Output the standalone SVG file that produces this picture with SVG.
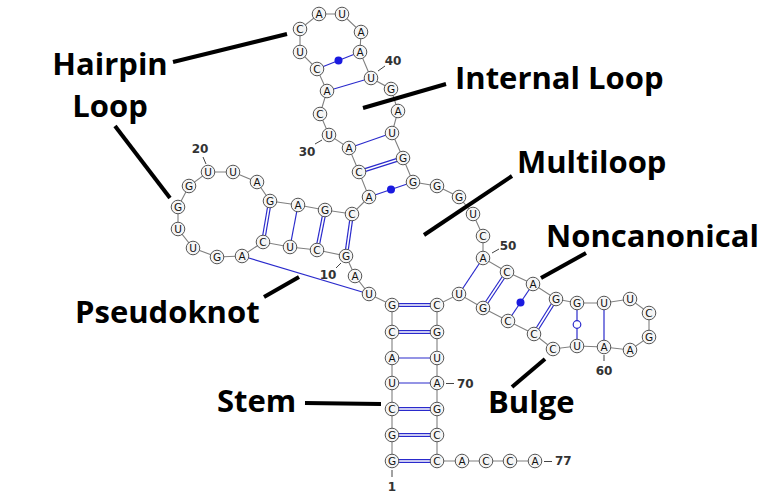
<svg xmlns="http://www.w3.org/2000/svg" width="773" height="500" viewBox="0 0 773 500">
<style>
.bb{fill:none;stroke:#808080;stroke-width:1.1}
.p{stroke:#2a2acc;stroke-width:1.2}
.dbl{stroke:#2a2acc;stroke-width:4}
.dblw{stroke:#fff;stroke-width:1.6}
.ptr{stroke:#000;stroke-width:4;stroke-linecap:butt}
.nd circle{fill:#f5f5f5;stroke:#555;stroke-width:1;r:6.8px}
.nd text{font-family:"DejaVu Sans",sans-serif;font-size:10.5px;text-anchor:middle;dominant-baseline:central;fill:#111}
.num{font-family:"DejaVu Sans",sans-serif;font-size:12px;font-weight:bold;fill:#333}
.tick{stroke:#444;stroke-width:1}
.lbl{font-family:"Open Sans","Noto Sans",sans-serif;font-size:31px;font-weight:bold;fill:#000}
</style>
<g id="connectors">
<polyline class="bb" points="392,461 392,435 392,409 392,383 392,358 392,332 392,305 369,294 355,276 346,256 317,250 290,247 263,242 242,256 217,257 193,248 178,229 178,207 189,186 208,172 233,172 257,182 270,201 298,205 325,210 352,214 369,197 359,172 349,148 329,135 320,114 327,91 317,69 300,52 300,29 319,14 342,14 361,32 360,52 371,78 391,89 398,111 392,133 403,158 413,182 437,186 459,197 473,214 483,236 483,258 507,272 533,284 556,299 577,303 604,303 630,299 649,313 649,337 630,350 604,347 577,346 553,349 534,334 508,321 483,308 459,294 437,305 437,332 437,358 437,383 437,409 437,435 437,461 462,461 486,461 510,461 535,461"/>
<g class="dbl">
<line x1="392" y1="461" x2="437" y2="461"/>
<line x1="392" y1="435" x2="437" y2="435"/>
<line x1="392" y1="409" x2="437" y2="409"/>
<line x1="392" y1="332" x2="437" y2="332"/>
<line x1="392" y1="305" x2="437" y2="305"/>
<line x1="270" y1="201" x2="263" y2="242"/>
<line x1="325" y1="210" x2="317" y2="250"/>
<line x1="352" y1="214" x2="346" y2="256"/>
<line x1="359" y1="172" x2="403" y2="158"/>
<line x1="507" y1="272" x2="483" y2="308"/>
<line x1="556" y1="299" x2="534" y2="334"/>
</g>
<g class="dblw">
<line x1="392" y1="461" x2="437" y2="461"/>
<line x1="392" y1="435" x2="437" y2="435"/>
<line x1="392" y1="409" x2="437" y2="409"/>
<line x1="392" y1="332" x2="437" y2="332"/>
<line x1="392" y1="305" x2="437" y2="305"/>
<line x1="270" y1="201" x2="263" y2="242"/>
<line x1="325" y1="210" x2="317" y2="250"/>
<line x1="352" y1="214" x2="346" y2="256"/>
<line x1="359" y1="172" x2="403" y2="158"/>
<line x1="507" y1="272" x2="483" y2="308"/>
<line x1="556" y1="299" x2="534" y2="334"/>
</g>
<g class="p">
<line x1="392" y1="383" x2="437" y2="383"/>
<line x1="392" y1="358" x2="437" y2="358"/>
<line x1="298" y1="205" x2="290" y2="247"/>
<line x1="242" y1="256" x2="369" y2="294"/>
<line x1="369" y1="197" x2="413" y2="182"/>
<line x1="349" y1="148" x2="392" y2="133"/>
<line x1="327" y1="91" x2="371" y2="78"/>
<line x1="317" y1="69" x2="360" y2="52"/>
<line x1="483" y1="258" x2="459" y2="294"/>
<line x1="533" y1="284" x2="508" y2="321"/>
<line x1="577" y1="303" x2="577" y2="346"/>
<line x1="604" y1="303" x2="604" y2="347"/>
</g>
<circle cx="391" cy="189.5" r="4" fill="#1a1ae0"/>
<circle cx="338.5" cy="60.5" r="4" fill="#1a1ae0"/>
<circle cx="520.5" cy="302.5" r="4" fill="#1a1ae0"/>
<circle cx="577" cy="324.5" r="3.8" fill="#fff" stroke="#2a2acc" stroke-width="1.2"/>
<g class="tick">
<line x1="378" y1="71" x2="385" y2="66"/>
<line x1="322" y1="140" x2="315" y2="144"/>
<line x1="206" y1="164" x2="203" y2="157"/>
<line x1="341" y1="263" x2="336" y2="268"/>
<line x1="492" y1="253" x2="499" y2="249"/>
<line x1="604" y1="355" x2="604" y2="361"/>
<line x1="446" y1="383.5" x2="454" y2="383.5"/>
<line x1="544" y1="461.5" x2="552" y2="461.5"/>
<line x1="392" y1="470" x2="392" y2="477"/>
</g>
<g class="ptr">
<line x1="173" y1="62" x2="287" y2="34"/>
<line x1="115" y1="126" x2="170" y2="198"/>
<line x1="363" y1="108" x2="446" y2="84"/>
<line x1="424" y1="235" x2="512" y2="176"/>
<line x1="541" y1="278" x2="586" y2="253"/>
<line x1="264" y1="297" x2="299" y2="277"/>
<line x1="305" y1="403" x2="381" y2="404"/>
<line x1="512" y1="387" x2="545" y2="359"/>
</g>
</g>
<g id="nodes">
<g id="n1" class="nd"><circle cx="392" cy="461" r="6.8"/><text x="392" y="461">G</text></g>
<g id="n2" class="nd"><circle cx="392" cy="435" r="6.8"/><text x="392" y="435">G</text></g>
<g id="n3" class="nd"><circle cx="392" cy="409" r="6.8"/><text x="392" y="409">C</text></g>
<g id="n4" class="nd"><circle cx="392" cy="383" r="6.8"/><text x="392" y="383">U</text></g>
<g id="n5" class="nd"><circle cx="392" cy="358" r="6.8"/><text x="392" y="358">A</text></g>
<g id="n6" class="nd"><circle cx="392" cy="332" r="6.8"/><text x="392" y="332">C</text></g>
<g id="n7" class="nd"><circle cx="392" cy="305" r="6.8"/><text x="392" y="305">G</text></g>
<g id="n8" class="nd"><circle cx="369" cy="294" r="6.8"/><text x="369" y="294">U</text></g>
<g id="n9" class="nd"><circle cx="355" cy="276" r="6.8"/><text x="355" y="276">A</text></g>
<g id="n10" class="nd"><circle cx="346" cy="256" r="6.8"/><text x="346" y="256">G</text></g>
<g id="n11" class="nd"><circle cx="317" cy="250" r="6.8"/><text x="317" y="250">C</text></g>
<g id="n12" class="nd"><circle cx="290" cy="247" r="6.8"/><text x="290" y="247">U</text></g>
<g id="n13" class="nd"><circle cx="263" cy="242" r="6.8"/><text x="263" y="242">C</text></g>
<g id="n14" class="nd"><circle cx="242" cy="256" r="6.8"/><text x="242" y="256">A</text></g>
<g id="n15" class="nd"><circle cx="217" cy="257" r="6.8"/><text x="217" y="257">G</text></g>
<g id="n16" class="nd"><circle cx="193" cy="248" r="6.8"/><text x="193" y="248">U</text></g>
<g id="n17" class="nd"><circle cx="178" cy="229" r="6.8"/><text x="178" y="229">U</text></g>
<g id="n18" class="nd"><circle cx="178" cy="207" r="6.8"/><text x="178" y="207">G</text></g>
<g id="n19" class="nd"><circle cx="189" cy="186" r="6.8"/><text x="189" y="186">G</text></g>
<g id="n20" class="nd"><circle cx="208" cy="172" r="6.8"/><text x="208" y="172">U</text></g>
<g id="n21" class="nd"><circle cx="233" cy="172" r="6.8"/><text x="233" y="172">U</text></g>
<g id="n22" class="nd"><circle cx="257" cy="182" r="6.8"/><text x="257" y="182">A</text></g>
<g id="n23" class="nd"><circle cx="270" cy="201" r="6.8"/><text x="270" y="201">G</text></g>
<g id="n24" class="nd"><circle cx="298" cy="205" r="6.8"/><text x="298" y="205">A</text></g>
<g id="n25" class="nd"><circle cx="325" cy="210" r="6.8"/><text x="325" y="210">G</text></g>
<g id="n26" class="nd"><circle cx="352" cy="214" r="6.8"/><text x="352" y="214">C</text></g>
<g id="n27" class="nd"><circle cx="369" cy="197" r="6.8"/><text x="369" y="197">A</text></g>
<g id="n28" class="nd"><circle cx="359" cy="172" r="6.8"/><text x="359" y="172">C</text></g>
<g id="n29" class="nd"><circle cx="349" cy="148" r="6.8"/><text x="349" y="148">A</text></g>
<g id="n30" class="nd"><circle cx="329" cy="135" r="6.8"/><text x="329" y="135">U</text></g>
<g id="n31" class="nd"><circle cx="320" cy="114" r="6.8"/><text x="320" y="114">C</text></g>
<g id="n32" class="nd"><circle cx="327" cy="91" r="6.8"/><text x="327" y="91">A</text></g>
<g id="n33" class="nd"><circle cx="317" cy="69" r="6.8"/><text x="317" y="69">C</text></g>
<g id="n34" class="nd"><circle cx="300" cy="52" r="6.8"/><text x="300" y="52">U</text></g>
<g id="n35" class="nd"><circle cx="300" cy="29" r="6.8"/><text x="300" y="29">C</text></g>
<g id="n36" class="nd"><circle cx="319" cy="14" r="6.8"/><text x="319" y="14">A</text></g>
<g id="n37" class="nd"><circle cx="342" cy="14" r="6.8"/><text x="342" y="14">U</text></g>
<g id="n38" class="nd"><circle cx="361" cy="32" r="6.8"/><text x="361" y="32">A</text></g>
<g id="n39" class="nd"><circle cx="360" cy="52" r="6.8"/><text x="360" y="52">A</text></g>
<g id="n40" class="nd"><circle cx="371" cy="78" r="6.8"/><text x="371" y="78">U</text></g>
<g id="n41" class="nd"><circle cx="391" cy="89" r="6.8"/><text x="391" y="89">G</text></g>
<g id="n42" class="nd"><circle cx="398" cy="111" r="6.8"/><text x="398" y="111">A</text></g>
<g id="n43" class="nd"><circle cx="392" cy="133" r="6.8"/><text x="392" y="133">U</text></g>
<g id="n44" class="nd"><circle cx="403" cy="158" r="6.8"/><text x="403" y="158">G</text></g>
<g id="n45" class="nd"><circle cx="413" cy="182" r="6.8"/><text x="413" y="182">G</text></g>
<g id="n46" class="nd"><circle cx="437" cy="186" r="6.8"/><text x="437" y="186">G</text></g>
<g id="n47" class="nd"><circle cx="459" cy="197" r="6.8"/><text x="459" y="197">G</text></g>
<g id="n48" class="nd"><circle cx="473" cy="214" r="6.8"/><text x="473" y="214">U</text></g>
<g id="n49" class="nd"><circle cx="483" cy="236" r="6.8"/><text x="483" y="236">C</text></g>
<g id="n50" class="nd"><circle cx="483" cy="258" r="6.8"/><text x="483" y="258">A</text></g>
<g id="n51" class="nd"><circle cx="507" cy="272" r="6.8"/><text x="507" y="272">C</text></g>
<g id="n52" class="nd"><circle cx="533" cy="284" r="6.8"/><text x="533" y="284">A</text></g>
<g id="n53" class="nd"><circle cx="556" cy="299" r="6.8"/><text x="556" y="299">G</text></g>
<g id="n54" class="nd"><circle cx="577" cy="303" r="6.8"/><text x="577" y="303">G</text></g>
<g id="n55" class="nd"><circle cx="604" cy="303" r="6.8"/><text x="604" y="303">U</text></g>
<g id="n56" class="nd"><circle cx="630" cy="299" r="6.8"/><text x="630" y="299">U</text></g>
<g id="n57" class="nd"><circle cx="649" cy="313" r="6.8"/><text x="649" y="313">C</text></g>
<g id="n58" class="nd"><circle cx="649" cy="337" r="6.8"/><text x="649" y="337">G</text></g>
<g id="n59" class="nd"><circle cx="630" cy="350" r="6.8"/><text x="630" y="350">A</text></g>
<g id="n60" class="nd"><circle cx="604" cy="347" r="6.8"/><text x="604" y="347">A</text></g>
<g id="n61" class="nd"><circle cx="577" cy="346" r="6.8"/><text x="577" y="346">U</text></g>
<g id="n62" class="nd"><circle cx="553" cy="349" r="6.8"/><text x="553" y="349">C</text></g>
<g id="n63" class="nd"><circle cx="534" cy="334" r="6.8"/><text x="534" y="334">C</text></g>
<g id="n64" class="nd"><circle cx="508" cy="321" r="6.8"/><text x="508" y="321">C</text></g>
<g id="n65" class="nd"><circle cx="483" cy="308" r="6.8"/><text x="483" y="308">G</text></g>
<g id="n66" class="nd"><circle cx="459" cy="294" r="6.8"/><text x="459" y="294">U</text></g>
<g id="n67" class="nd"><circle cx="437" cy="305" r="6.8"/><text x="437" y="305">C</text></g>
<g id="n68" class="nd"><circle cx="437" cy="332" r="6.8"/><text x="437" y="332">G</text></g>
<g id="n69" class="nd"><circle cx="437" cy="358" r="6.8"/><text x="437" y="358">U</text></g>
<g id="n70" class="nd"><circle cx="437" cy="383" r="6.8"/><text x="437" y="383">A</text></g>
<g id="n71" class="nd"><circle cx="437" cy="409" r="6.8"/><text x="437" y="409">G</text></g>
<g id="n72" class="nd"><circle cx="437" cy="435" r="6.8"/><text x="437" y="435">C</text></g>
<g id="n73" class="nd"><circle cx="437" cy="461" r="6.8"/><text x="437" y="461">C</text></g>
<g id="n74" class="nd"><circle cx="462" cy="461" r="6.8"/><text x="462" y="461">A</text></g>
<g id="n75" class="nd"><circle cx="486" cy="461" r="6.8"/><text x="486" y="461">C</text></g>
<g id="n76" class="nd"><circle cx="510" cy="461" r="6.8"/><text x="510" y="461">C</text></g>
<g id="n77" class="nd"><circle cx="535" cy="461" r="6.8"/><text x="535" y="461">A</text></g>
</g>
<g id="numbers">
<text class="num" x="393" y="65" text-anchor="middle">40</text>
<text class="num" x="307" y="156" text-anchor="middle">30</text>
<text class="num" x="200" y="153" text-anchor="middle">20</text>
<text class="num" x="328" y="279" text-anchor="middle">10</text>
<text class="num" x="508" y="250" text-anchor="middle">50</text>
<text class="num" x="604" y="375" text-anchor="middle">60</text>
<text class="num" x="457" y="388">70</text>
<text class="num" x="555" y="465">77</text>
<text class="num" x="392" y="491" text-anchor="middle">1</text>
</g>
<g id="labels">
<text class="lbl" x="110" y="75" text-anchor="middle">Hairpin</text>
<text class="lbl" x="110" y="117" text-anchor="middle">Loop</text>
<text class="lbl" x="455" y="89">Internal Loop</text>
<text class="lbl" x="517" y="173">Multiloop</text>
<text class="lbl" x="546" y="247">Noncanonical</text>
<text class="lbl" x="75" y="323">Pseudoknot</text>
<text class="lbl" x="217" y="412">Stem</text>
<text class="lbl" x="488" y="413">Bulge</text>
</g>
</svg>
